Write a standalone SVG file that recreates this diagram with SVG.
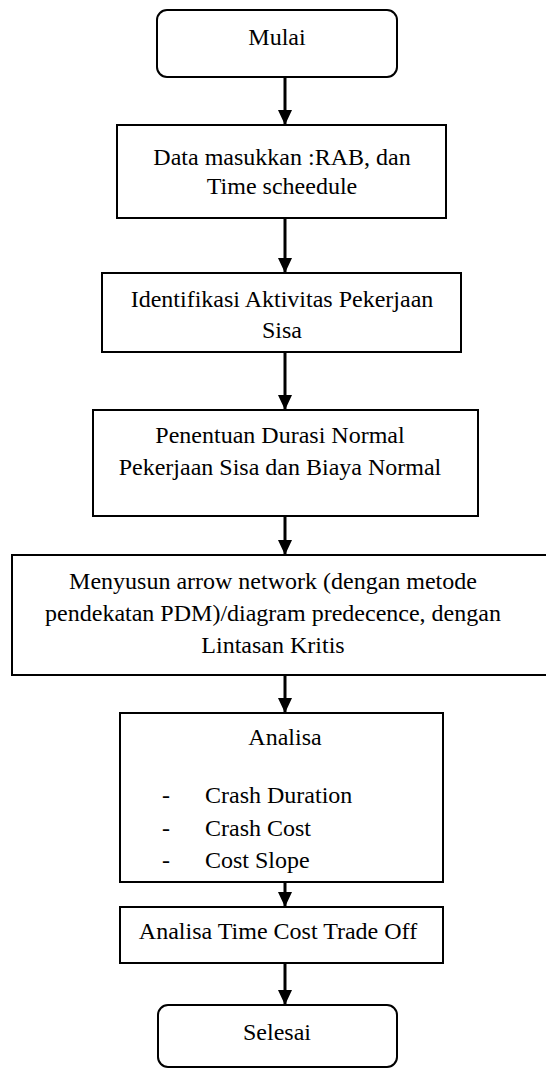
<svg xmlns="http://www.w3.org/2000/svg" width="546" height="1070" viewBox="0 0 546 1070">
<style>
.box{fill:#fff;stroke:#000;stroke-width:2}
.c{stroke:#000;stroke-width:3;fill:none}
</style>
<defs>
<marker id="ah" markerUnits="userSpaceOnUse" markerWidth="15" markerHeight="14" refX="15" refY="7" orient="auto">
<path d="M0,0 L15,7 L0,14 z" fill="#000"/>
</marker>
</defs>
<rect width="546" height="1070" fill="#fff"/>
<g id="connectors">
<line class="c" x1="285" y1="77" x2="285" y2="125" marker-end="url(#ah)"/>
<line class="c" x1="285" y1="218" x2="285" y2="273" marker-end="url(#ah)"/>
<line class="c" x1="285" y1="352" x2="285" y2="410" marker-end="url(#ah)"/>
<line class="c" x1="285" y1="516" x2="285" y2="555" marker-end="url(#ah)"/>
<line class="c" x1="285" y1="675" x2="285" y2="713" marker-end="url(#ah)"/>
<line class="c" x1="285" y1="882" x2="285" y2="907" marker-end="url(#ah)"/>
<line class="c" x1="285" y1="963" x2="285" y2="1005" marker-end="url(#ah)"/>
</g>
<g id="mulai">
<rect class="box" x="157" y="10" width="240" height="67" rx="10"/>
<text style="font-family:'Liberation Serif';font-size:24px" text-anchor="middle" x="277" y="45">Mulai</text>
</g>
<g id="data">
<rect class="box" x="117" y="125" width="329" height="93"/>
<text style="font-family:'Liberation Serif';font-size:24px" text-anchor="middle" x="282" y="165">Data masukkan :RAB, dan</text>
<text style="font-family:'Liberation Serif';font-size:24px" text-anchor="middle" x="282" y="194">Time scheedule</text>
</g>
<g id="identifikasi">
<rect class="box" x="102" y="273" width="359" height="79"/>
<text style="font-family:'Liberation Serif';font-size:24px" text-anchor="middle" x="282" y="307">Identifikasi Aktivitas Pekerjaan</text>
<text style="font-family:'Liberation Serif';font-size:24px" text-anchor="middle" x="282" y="338">Sisa</text>
</g>
<g id="penentuan">
<rect class="box" x="93" y="410" width="385" height="106"/>
<text style="font-family:'Liberation Serif';font-size:24px" text-anchor="middle" x="280" y="443">Penentuan Durasi Normal</text>
<text style="font-family:'Liberation Serif';font-size:24px" text-anchor="middle" x="280" y="475">Pekerjaan Sisa dan Biaya Normal</text>
</g>
<g id="menyusun">
<rect class="box" x="12" y="555" width="550" height="120"/>
<text style="font-family:'Liberation Serif';font-size:24px" text-anchor="middle" x="273" y="589">Menyusun arrow network (dengan metode</text>
<text style="font-family:'Liberation Serif';font-size:24px" text-anchor="middle" x="273" y="621">pendekatan PDM)/diagram predecence, dengan</text>
<text style="font-family:'Liberation Serif';font-size:24px" text-anchor="middle" x="273" y="653">Lintasan Kritis</text>
</g>
<g id="analisa">
<rect class="box" x="120" y="713" width="323" height="169"/>
<text style="font-family:'Liberation Serif';font-size:24px" text-anchor="middle" x="285" y="745">Analisa</text>
<text style="font-family:'Liberation Serif';font-size:24px" x="162" y="803">-</text>
<text style="font-family:'Liberation Serif';font-size:24px" x="205" y="803">Crash Duration</text>
<text style="font-family:'Liberation Serif';font-size:24px" x="162" y="836">-</text>
<text style="font-family:'Liberation Serif';font-size:24px" x="205" y="836">Crash Cost</text>
<text style="font-family:'Liberation Serif';font-size:24px" x="162" y="868">-</text>
<text style="font-family:'Liberation Serif';font-size:24px" x="205" y="868">Cost Slope</text>
</g>
<g id="tradeoff">
<rect class="box" x="120" y="907" width="323" height="56"/>
<text style="font-family:'Liberation Serif';font-size:24px" text-anchor="middle" x="278" y="939">Analisa Time Cost Trade Off</text>
</g>
<g id="selesai">
<rect class="box" x="158" y="1005" width="239" height="62" rx="10"/>
<text style="font-family:'Liberation Serif';font-size:24px" text-anchor="middle" x="277" y="1040">Selesai</text>
</g>
</svg>
